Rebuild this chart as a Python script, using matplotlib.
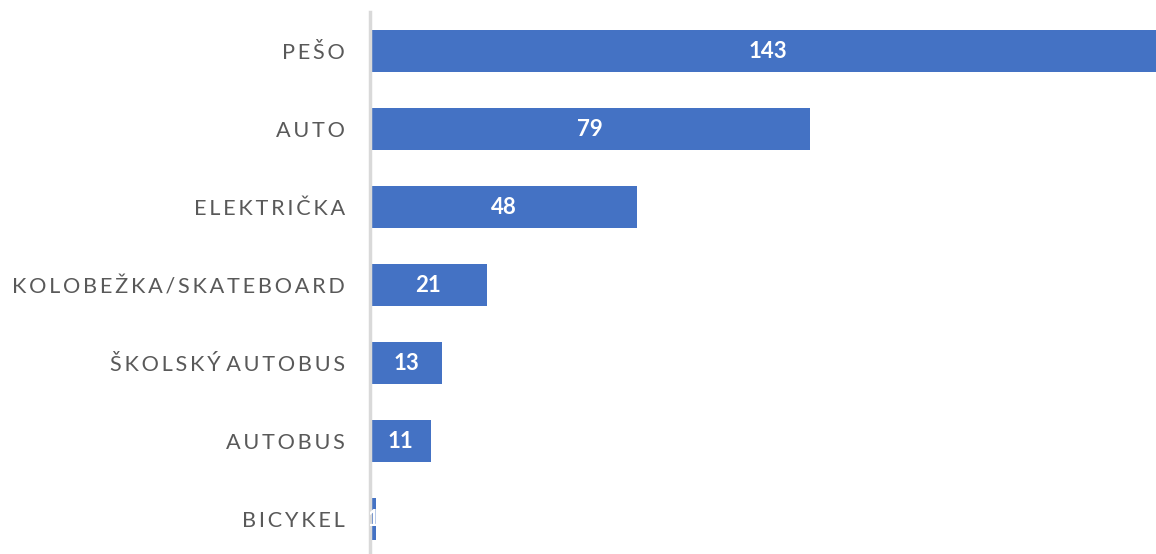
import matplotlib.pyplot as plt

categories = ["PEŠO", "AUTO", "ELEKTRIČKA", "KOLOBEŽKA/SKATEBOARD",
              "ŠKOLSKÝ AUTOBUS", "AUTOBUS", "BICYKEL"]
values = [143, 79, 48, 21, 13, 11, 1]


def spaced(s):
    # roztiahnuté písmená ako v pôvodnom grafe, medzera medzi slovami ostáva úzka
    return " ".join("\u2009".join(w) for w in s.split(" "))


fig = plt.figure(figsize=(11.56, 5.54), dpi=100)
ax = fig.add_axes([370 / 1156, 0, 1 - 370 / 1156, 542 / 554])

pos = list(range(len(categories)))
bars = ax.barh(pos, values, height=0.54, color="#4472C4")

ax.set_xlim(0, 141.2)
ax.set_ylim(-0.5 + 542 / 78, -0.5)

for b, v in zip(bars, values):
    ax.text(b.get_width() / 2, b.get_y() + b.get_height() / 2, str(v),
            ha="center", va="center", color="white", fontsize=16,
            fontweight="bold", family="Lato", clip_on=True)

ax.set_yticks(pos)
ax.set_yticklabels([spaced(c) for c in categories], family="Lato",
                   fontsize=15.6, color="#595959")
ax.tick_params(axis="y", length=0, pad=18)
ax.set_xticks([])

for side in ["top", "right", "bottom"]:
    ax.spines[side].set_visible(False)
ax.spines["left"].set_color("#D9D9D9")
ax.spines["left"].set_linewidth(2.5)

fig.savefig("out.png", dpi=100)
